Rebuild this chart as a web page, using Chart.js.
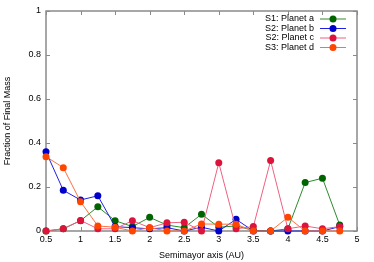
<!DOCTYPE html>
<html>
<head>
<meta charset="utf-8">
<script src="https://cdn.jsdelivr.net/npm/chart.js@4/dist/chart.umd.min.js"></script>
<style>
  html, body { margin: 0; padding: 0; background: #fff; }
  #wrap { width: 374px; height: 262px; }
</style>
</head>
<body>
<div id="wrap"><canvas id="chart"></canvas></div>
<script>
// semimajor axis positions (AU)
const semimajor = [0.5, 0.75, 1.0, 1.25, 1.5, 1.75, 2.0, 2.25, 2.5, 2.75,
                   3.0, 3.25, 3.5, 3.75, 4.0, 4.25, 4.5, 4.75];

const planetA = [0.0, 0.01, 0.047, 0.11, 0.047, 0.02, 0.062, 0.027, 0.015, 0.076,
                 0.017, 0.023, 0.003, 0.0, 0.01, 0.22, 0.24, 0.027];
const planetB = [0.36, 0.185, 0.141, 0.16, 0.02, 0.015, 0.01, 0.015, 0.0, 0.017,
                 0.0, 0.053, 0.0, 0.0, 0.0, 0.0, 0.0, 0.02];
const planetC = [0.0, 0.01, 0.048, 0.01, 0.01, 0.047, 0.015, 0.037, 0.04, 0.0,
                 0.31, 0.01, 0.02, 0.32, 0.01, 0.023, 0.01, 0.02];
const planetD = [0.338, 0.288, 0.133, 0.023, 0.017, 0.0, 0.015, 0.0, 0.0, 0.032,
                 0.031, 0.031, 0.0, 0.0, 0.062, 0.0, 0.0, 0.0];

const seriesLabels = ['S1: Planet a', 'S2: Planet b', 'S2: Planet c', 'S3: Planet d'];
const seriesColors = ['#006400', '#0000cd', '#dc143c', '#ff4500'];
const lineColors   = ['#2e8b2e', '#2020e0', '#f06080', '#ff7040'];

const xTicks = [0.5, 1, 1.5, 2, 2.5, 3, 3.5, 4, 4.5, 5];
const yTicks = [0, 0.2, 0.4, 0.6, 0.8, 1];

const FONT = { family: "'Liberation Sans', Arial, sans-serif", size: 9 };
const AXIS_GRAY = '#8a8a8a';

function toPoints(vals) {
  return vals.map((v, i) => ({ x: semimajor[i], y: v }));
}

// gnuplot-style frame with inward, mirrored ticks
const framePlugin = {
  id: 'frame',
  beforeDatasetsDraw(chart) {
    const { ctx, chartArea: a, scales } = chart;
    ctx.save();
    ctx.strokeStyle = AXIS_GRAY;
    ctx.lineWidth = 1;
    ctx.beginPath();
    xTicks.forEach(t => {
      const px = Math.round(scales.x.getPixelForValue(t)) + 0.5;
      ctx.moveTo(px, a.bottom); ctx.lineTo(px, a.bottom - 4);
      ctx.moveTo(px, a.top);    ctx.lineTo(px, a.top + 4);
    });
    yTicks.forEach(t => {
      const py = Math.round(scales.y.getPixelForValue(t)) + 0.5;
      ctx.moveTo(a.left, py);  ctx.lineTo(a.left + 4, py);
      ctx.moveTo(a.right, py); ctx.lineTo(a.right - 4, py);
    });
    ctx.stroke();
    ctx.lineWidth = 1.5;
    ctx.strokeRect(a.left, a.top, a.right - a.left, a.bottom - a.top);
    ctx.restore();
  }
};

// legend in the top-right corner: label then line sample with marker
const keyPlugin = {
  id: 'key',
  afterDatasetsDraw(chart) {
    const { ctx } = chart;
    ctx.save();
    ctx.font = `${FONT.size}px ${FONT.family}`;
    ctx.textAlign = 'right';
    ctx.textBaseline = 'middle';
    seriesLabels.forEach((lab, i) => {
      const y = 19 + i * 9.5;
      ctx.fillStyle = '#000';
      ctx.fillText(lab, 314, y);
      ctx.strokeStyle = lineColors[i];
      ctx.lineWidth = 1;
      ctx.beginPath();
      ctx.moveTo(320, y); ctx.lineTo(346, y);
      ctx.stroke();
      ctx.fillStyle = seriesColors[i];
      ctx.beginPath();
      ctx.arc(333, y, 3.5, 0, Math.PI * 2);
      ctx.fill();
    });
    ctx.restore();
  }
};

const allSeries = [planetA, planetB, planetC, planetD];

new Chart(document.getElementById('chart'), {
  type: 'line',
  data: {
    datasets: allSeries.map((vals, i) => ({
      label: seriesLabels[i],
      data: toPoints(vals),
      borderColor: lineColors[i],
      backgroundColor: seriesColors[i],
      pointBackgroundColor: seriesColors[i],
      pointBorderColor: seriesColors[i],
      borderWidth: 1,
      pointRadius: 3.5,
      pointBorderWidth: 0,
      tension: 0,
      clip: false,
      order: allSeries.length - i,
    })),
  },
  options: {
    responsive: true,
    maintainAspectRatio: false,
    animation: false,
    devicePixelRatio: 1,
    layout: { padding: { top: 11, right: 17, left: 0, bottom: 0 } },
    plugins: {
      legend: { display: false },
      tooltip: { enabled: false },
    },
    scales: {
      x: {
        type: 'linear',
        min: 0.5,
        max: 5,
        afterBuildTicks: (s) => { s.ticks = xTicks.map(v => ({ value: v })); },
        afterFit: (s) => { s.height = 31; },
        grid: { display: false, drawTicks: false },
        border: { display: false },
        ticks: {
          color: '#000',
          font: FONT,
          padding: 3,
          maxRotation: 0,
          callback: (v) => String(v),
        },
        title: {
          display: true,
          text: 'Semimayor axis (AU)',
          color: '#000',
          font: FONT,
          padding: { top: 0, bottom: 1 },
        },
      },
      y: {
        min: 0,
        max: 1,
        afterBuildTicks: (s) => { s.ticks = yTicks.map(v => ({ value: v })); },
        afterFit: (s) => { s.width = 46; },
        grid: { display: false, drawTicks: false },
        border: { display: false },
        ticks: {
          color: '#000',
          font: FONT,
          padding: 5,
          callback: (v) => String(v),
        },
        title: {
          display: true,
          text: 'Fraction of Final Mass',
          color: '#000',
          font: FONT,
          padding: { top: 2, bottom: 0 },
        },
      },
    },
  },
  plugins: [framePlugin, keyPlugin],
});
</script>
</body>
</html>
